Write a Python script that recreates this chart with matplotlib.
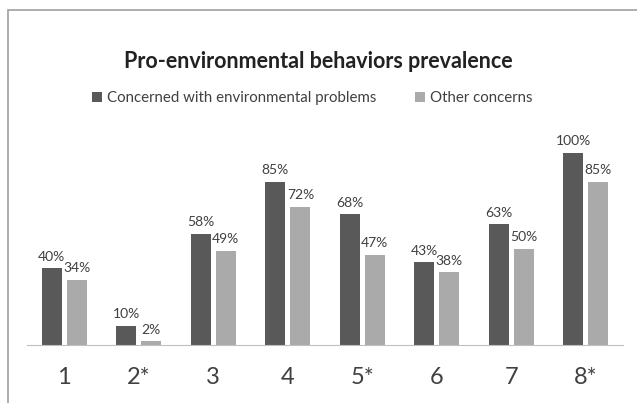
import matplotlib
matplotlib.use("Agg")
import matplotlib.pyplot as plt
from matplotlib.patches import Rectangle
import numpy as np

plt.rcParams['font.family'] = ['Lato', 'DejaVu Sans']

# datos
categorias = ["1", "2*", "3", "4", "5*", "6", "7", "8*"]
preocupados = [40, 10, 58, 85, 68, 43, 63, 100]
otros = [34, 2, 49, 72, 47, 38, 50, 85]
series = ["Concerned with environmental problems", "Other concerns"]

oscuro = "#595959"
claro = "#aaaaaa"
texto = "#404040"

fig = plt.figure(figsize=(6.37, 4.03), dpi=100)
ax = fig.add_axes([27/637, 58/403, 596/637, 210/403])

x = np.arange(len(categorias))
w = 0.27
b1 = ax.bar(x - 0.17, preocupados, w, color=oscuro, label=series[0])
b2 = ax.bar(x + 0.17, otros, w, color=claro, label=series[1])

# etiquetas de porcentaje
for barras in (b1, b2):
    for r in barras:
        ax.annotate(f"{int(r.get_height())}%", (r.get_x() + r.get_width()/2, r.get_height()),
                    xytext=(0, 4), textcoords="offset points", ha="center", va="bottom",
                    fontsize=10, color=texto)

ax.set_xlim(-0.5, len(categorias) - 0.5)
ax.set_ylim(0, 109.4)
ax.set_xticks(x)
ax.set_xticklabels(categorias, fontsize=17, color=texto)
ax.tick_params(axis="x", length=0, pad=16)
ax.set_yticks([])
for s in ["top", "right", "left"]:
    ax.spines[s].set_visible(False)
ax.spines["bottom"].set_color("#bfbfbf")

fig.text(318/637, 1 - 62/403, "Pro-environmental behaviors prevalence", ha="center", va="center",
         fontsize=15.5, fontweight="bold", color="#222222")
fig.legend(handles=[b1, b2], labels=series, loc="center", bbox_to_anchor=(312/637, 1 - 98/403),
           ncol=2, frameon=False, fontsize=10.8, handlelength=0.7, handleheight=0.7,
           handletextpad=0.3, columnspacing=2.6, labelcolor=texto)

# marco del grafico
fig.add_artist(Rectangle((8/637, -0.1), 2, (1 - 10/403) + 0.1, transform=fig.transFigure,
                         fill=False, edgecolor="#a0a0a0", linewidth=1.2))

plt.savefig("out.png")
plt.close()
